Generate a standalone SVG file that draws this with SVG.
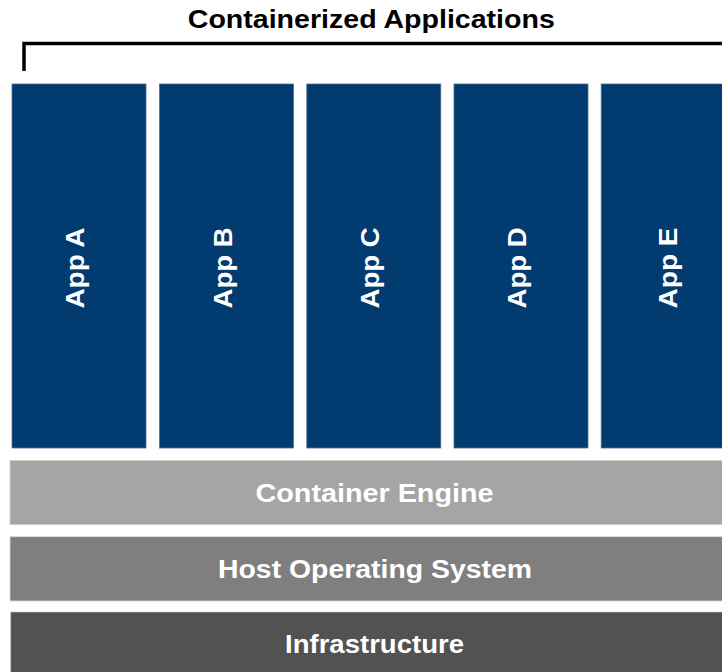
<svg xmlns="http://www.w3.org/2000/svg" width="722" height="672" viewBox="0 0 722 672">
<style>
.app{fill:#023b6f;stroke:#4a6d94;stroke-width:0.8}
.apptxt{font-family:"Liberation Sans",Arial,sans-serif;font-weight:bold;font-size:26px;fill:#ffffff;text-anchor:middle}
.lt{font-family:"Liberation Sans",Arial,sans-serif;font-weight:bold;font-size:26px;fill:#ffffff;text-anchor:middle}
.title{font-family:"Liberation Sans",Arial,sans-serif;font-weight:bold;font-size:25px;fill:#000000;text-anchor:middle}
</style>
<rect width="722" height="672" fill="#ffffff"/>
<g id="title">
<text class="title" x="371.3" y="28" textLength="367" lengthAdjust="spacingAndGlyphs">Containerized Applications</text>
</g>
<g id="connectors">
<path d="M24,71 V43.5 H722" fill="none" stroke="#000000" stroke-width="3.5"/>
</g>
<g id="appA">
<rect class="app" x="12" y="84" width="134" height="364"/>
<text class="apptxt" transform="translate(84,268) rotate(-90)" x="0" y="0" textLength="81" lengthAdjust="spacingAndGlyphs">App A</text>
</g>
<g id="appB">
<rect class="app" x="159.5" y="84" width="134" height="364"/>
<text class="apptxt" transform="translate(231.5,268) rotate(-90)" x="0" y="0" textLength="81" lengthAdjust="spacingAndGlyphs">App B</text>
</g>
<g id="appC">
<rect class="app" x="306.8" y="84" width="134" height="364"/>
<text class="apptxt" transform="translate(378.8,268) rotate(-90)" x="0" y="0" textLength="81" lengthAdjust="spacingAndGlyphs">App C</text>
</g>
<g id="appD">
<rect class="app" x="454" y="84" width="134" height="364"/>
<text class="apptxt" transform="translate(526,268) rotate(-90)" x="0" y="0" textLength="81" lengthAdjust="spacingAndGlyphs">App D</text>
</g>
<g id="appE">
<rect class="app" x="601.2" y="84" width="134" height="364"/>
<text class="apptxt" transform="translate(677,268) rotate(-90)" x="0" y="0" textLength="81" lengthAdjust="spacingAndGlyphs">App E</text>
</g>
<g id="containerEngine">
<rect x="10" y="460.5" width="720" height="64" fill="#a5a5a5" stroke="#cccccc" stroke-width="0.8"/>
<text class="lt" x="374.5" y="501.5" textLength="238" lengthAdjust="spacingAndGlyphs">Container Engine</text>
</g>
<g id="hostOS">
<rect x="10" y="536.7" width="720" height="64.3" fill="#7f7f7f" stroke="#d8d8d8" stroke-width="0.8"/>
<text class="lt" x="375" y="577.7" textLength="314" lengthAdjust="spacingAndGlyphs">Host Operating System</text>
</g>
<g id="infrastructure">
<rect x="11" y="612.3" width="720" height="70" fill="#525252" stroke="#707070" stroke-width="0.8"/>
<text class="lt" x="374.5" y="653.3" textLength="179" lengthAdjust="spacingAndGlyphs">Infrastructure</text>
</g>
</svg>
